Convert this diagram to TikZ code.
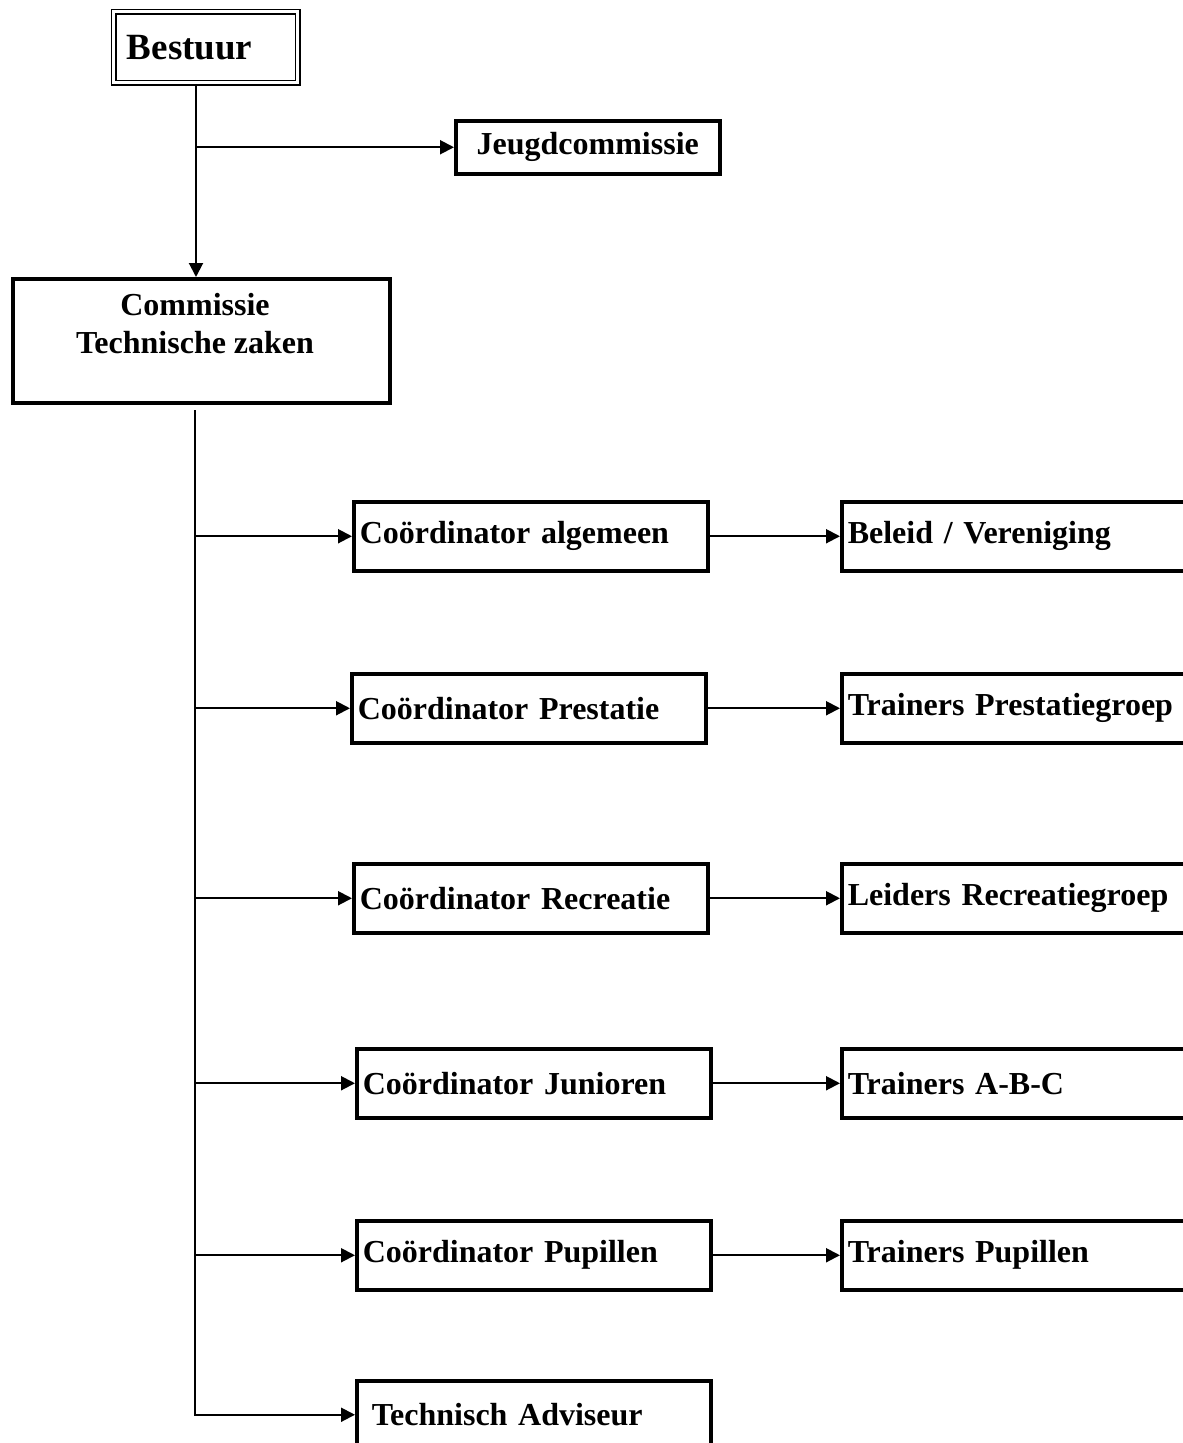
\documentclass[tikz,border=0pt]{standalone}
\usepackage{fontspec}
\setmainfont{Liberation Serif}
\usetikzlibrary{arrows.meta}

\tikzset{
  blok/.style={draw, line width=3.5pt, rectangle, anchor=north west,
    font=\bfseries\fontsize{32}{38}\selectfont},
  coordbox/.style={blok, minimum height=69pt, align=left, inner xsep=6pt, text width=342pt},
  doelbox/.style={blok, minimum height=69pt, align=left, inner xsep=6pt, text width=400pt},
  pijl/.style={line width=2pt, -{Triangle[length=14pt,width=14pt]}}
}

\begin{document}
\begin{tikzpicture}[x=1pt,y=-1pt]
\useasboundingbox (0,0) rectangle (1183,1443);
\clip (0,0) rectangle (1183,1443);

% bovenste deel
\node[blok, line width=1.8pt, double, double distance=3pt, minimum height=71pt,
  align=left, inner xsep=13pt, text width=158pt,
  font=\bfseries\fontsize{37}{44}\selectfont] (bestuur) at (113,11) {Bestuur};
\node[blok, minimum width=264pt, minimum height=53pt, inner sep=0pt] (jeugd) at (454,119) {Jeugdcommissie};
\node[blok, minimum width=377pt, minimum height=124pt, inner sep=0pt] (ctz) at (11,277) {};
\node[align=center, font=\bfseries\fontsize{32}{38}\selectfont] (ctztekst) at (195,324) {Commissie\\Technische zaken};

\coordinate (top) at (196,0);
\draw[pijl] (top |- bestuur.south) -- (top |- ctz.north);
\draw[pijl] (top |- jeugd.west) -- (jeugd.west);

% coordinatoren
\node[coordbox] (alg) at (352,500) {Coördinator algemeen};
\node[coordbox] (pres) at (350,672) {Coördinator Prestatie};
\node[coordbox] (recr) at (352,862) {Coördinator Recreatie};
\node[coordbox] (jun) at (355,1047) {Coördinator Junioren};
\node[coordbox] (pup) at (355,1219) {Coördinator Pupillen};
\node[coordbox, minimum height=68pt, inner xsep=15pt, text width=324pt] (adv) at (355,1379) {Technisch Adviseur};

% rechterkolom
\node[doelbox] (beleid) at (840,500) {Beleid / Vereniging};
\node[doelbox] (tpres) at (840,672) {Trainers Prestatiegroep};
\node[doelbox] (lrecr) at (840,862) {Leiders Recreatiegroep};
\node[doelbox] (tabc) at (840,1047) {Trainers A-B-C};
\node[doelbox] (tpup) at (840,1219) {Trainers Pupillen};

\coordinate (stam) at (195,410);
\draw[pijl] (stam) -- (stam |- adv.west) -- (adv.west);
\draw[pijl] (stam |- alg.west) -- (alg.west);
\draw[pijl] (stam |- pres.west) -- (pres.west);
\draw[pijl] (stam |- recr.west) -- (recr.west);
\draw[pijl] (stam |- jun.west) -- (jun.west);
\draw[pijl] (stam |- pup.west) -- (pup.west);

\draw[pijl] (alg.east) -- (beleid.west);
\draw[pijl] (pres.east) -- (tpres.west);
\draw[pijl] (recr.east) -- (lrecr.west);
\draw[pijl] (jun.east) -- (tabc.west);
\draw[pijl] (pup.east) -- (tpup.west);
\end{tikzpicture}
\end{document}
